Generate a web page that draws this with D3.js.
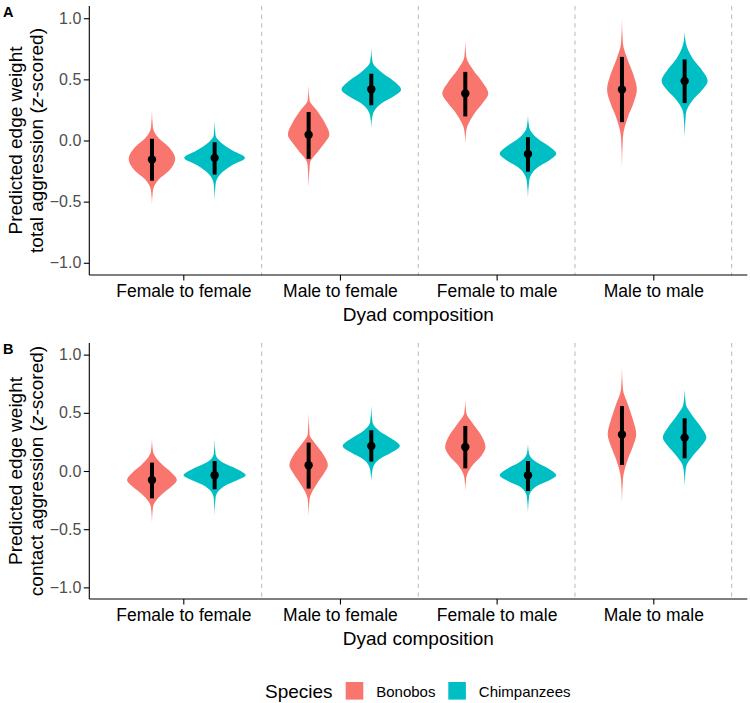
<!DOCTYPE html>
<html>
<head>
<meta charset="utf-8">
<script src="https://cdn.jsdelivr.net/npm/d3@7"></script>
<style>
  body { margin: 0; background: #fff; }
  svg { display: block; font-family: "Liberation Sans", Arial, sans-serif; }
</style>
</head>
<body>
<svg id="chart" width="750" height="703"></svg>
<script>
const categories = ["Female to female", "Male to female", "Female to male", "Male to male"];
const species = ["Bonobos", "Chimpanzees"];
const speciesColors = ["#F8766D", "#00BFC4"];
const yTicks = [-1, -0.5, 0, 0.5, 1];

// order of the 8 groups: category by category, bonobos then chimpanzees
const totalMedian = [-0.155, -0.142, 0.047, 0.419, 0.384, -0.110, 0.417, 0.487];
const totalLower  = [-0.329, -0.279, -0.150, 0.288, 0.197, -0.255, 0.150, 0.306];
const totalUpper  = [0.014, -0.014, 0.233, 0.546, 0.561, 0.027, 0.684, 0.663];

const contactMedian = [-0.077, -0.037, 0.049, 0.215, 0.206, -0.037, 0.313, 0.287];
const contactLower  = [-0.235, -0.157, -0.151, 0.081, 0.023, -0.172, 0.052, 0.109];
const contactUpper  = [0.072, 0.086, 0.244, 0.350, 0.387, 0.086, 0.558, 0.453];

// violin outlines: [value, relative density]
const totalViolins = [
    [[0.247, 0], [0.109, 0.03], [0.027, 0.19], [-0.055, 0.55], [-0.150, 0.75], [-0.247, 0.55], [-0.315, 0.23], [-0.411, 0.03], [-0.520, 0]],
    [[0.164, 0], [0.041, 0.03], [-0.014, 0.19], [-0.082, 0.58], [-0.142, 0.98], [-0.205, 0.55], [-0.274, 0.19], [-0.356, 0.03], [-0.493, 0]],
    [[0.452, 0], [0.329, 0.03], [0.247, 0.26], [0.145, 0.52], [0.047, 0.67], [-0.019, 0.52], [-0.082, 0.33], [-0.189, 0.04], [-0.384, 0]],
    [[0.753, 0], [0.643, 0.04], [0.561, 0.32], [0.489, 0.71], [0.417, 0.96], [0.359, 0.71], [0.302, 0.32], [0.205, 0.04], [0.109, 0]],
    [[0.822, 0], [0.684, 0.03], [0.575, 0.26], [0.479, 0.55], [0.384, 0.74], [0.302, 0.55], [0.219, 0.29], [0.082, 0.03], [-0.027, 0]],
    [[0.205, 0], [0.109, 0.04], [0.014, 0.32], [-0.048, 0.68], [-0.109, 0.91], [-0.164, 0.68], [-0.219, 0.32], [-0.329, 0.04], [-0.466, 0]],
    [[0.990, 0], [0.795, 0.03], [0.657, 0.19], [0.537, 0.37], [0.417, 0.48], [0.304, 0.37], [0.191, 0.19], [0.027, 0.03], [-0.219, 0]],
    [[0.890, 0], [0.795, 0.04], [0.671, 0.26], [0.579, 0.55], [0.487, 0.74], [0.408, 0.55], [0.329, 0.26], [0.219, 0.04], [0.027, 0]]
];

const contactViolins = [
    [[0.272, 0], [0.172, 0.03], [0.058, 0.32], [-0.009, 0.61], [-0.077, 0.80], [-0.138, 0.61], [-0.200, 0.32], [-0.314, 0.03], [-0.443, 0]],
    [[0.272, 0], [0.143, 0.03], [0.072, 0.26], [0.017, 0.71], [-0.037, 1.00], [-0.082, 0.71], [-0.129, 0.32], [-0.229, 0.03], [-0.387, 0]],
    [[0.502, 0], [0.315, 0.03], [0.229, 0.23], [0.139, 0.48], [0.049, 0.62], [-0.026, 0.48], [-0.100, 0.29], [-0.243, 0.03], [-0.387, 0]],
    [[0.558, 0], [0.416, 0.04], [0.344, 0.26], [0.279, 0.65], [0.215, 0.92], [0.158, 0.65], [0.101, 0.26], [0.015, 0.04], [-0.086, 0]],
    [[0.616, 0], [0.502, 0.03], [0.401, 0.26], [0.304, 0.52], [0.206, 0.65], [0.132, 0.52], [0.058, 0.26], [-0.057, 0.03], [-0.172, 0]],
    [[0.229, 0], [0.143, 0.04], [0.072, 0.29], [0.017, 0.68], [-0.037, 0.91], [-0.082, 0.68], [-0.129, 0.29], [-0.215, 0.04], [-0.357, 0]],
    [[0.888, 0], [0.702, 0.03], [0.573, 0.19], [0.444, 0.35], [0.315, 0.46], [0.208, 0.35], [0.101, 0.19], [-0.071, 0.03], [-0.271, 0]],
    [[0.702, 0], [0.573, 0.04], [0.473, 0.26], [0.380, 0.52], [0.287, 0.70], [0.208, 0.52], [0.129, 0.26], [0.029, 0.04], [-0.129, 0]]
];

const panels = [
    {label: "A", titleLines: ["Predicted edge weight", "total aggression"], median: totalMedian, lower: totalLower, upper: totalUpper, violins: totalViolins, top: 6, bottom: 275},
    {label: "B", titleLines: ["Predicted edge weight", "contact aggression"], median: contactMedian, lower: contactLower, upper: contactUpper, violins: contactViolins, top: 343, bottom: 599}
];

var svg = d3.select("#chart");
var plotLeft = 89.3, plotRight = 747.3;

var x = d3.scalePoint().domain(categories).range([plotLeft, plotRight]).padding(0.6);
var step = x.step();
var dodge = d3.scalePoint().domain(species).range([-0.2 * step, 0.2 * step]);
var halfWidth = d3.scaleLinear().domain([0, 1]).range([0, 0.198 * step]);
var color = d3.scaleOrdinal().domain(species).range(speciesColors);

function drawPanel(p) {
    var y = d3.scaleLinear().domain([-1.1, 1.1]).range([p.bottom, p.top]);
    var g = svg.append("g");

    // dashed separators between categories
    g.selectAll("line.sep")
        .data(categories)
        .enter().append("line")
        .attr("class", "sep")
        .attr("x1", function(d) { return x(d) + step / 2; })
        .attr("x2", function(d) { return x(d) + step / 2; })
        .attr("y1", p.top)
        .attr("y2", p.bottom)
        .attr("stroke", "#BEBEBE")
        .attr("stroke-width", 1.1)
        .attr("stroke-dasharray", "4.3,4.3");

    var groups = [];
    categories.forEach(function(cat, i) {
        species.forEach(function(sp, j) {
            var k = i * species.length + j;
            groups.push({cat: cat, sp: sp, median: p.median[k], lower: p.lower[k], upper: p.upper[k], profile: p.violins[k]});
        });
    });

    var cx = function(d) { return x(d.cat) + dodge(d.sp); };

    g.selectAll("path.violin")
        .data(groups)
        .enter().append("path")
        .attr("class", "violin")
        .attr("fill", function(d) { return color(d.sp); })
        .attr("d", function(d) {
            var c = cx(d);
            return d3.area()
                .curve(d3.curveMonotoneY)
                .y(function(v) { return y(v[0]); })
                .x0(function(v) { return c - halfWidth(v[1]); })
                .x1(function(v) { return c + halfWidth(v[1]); })(d.profile);
        });

    g.selectAll("line.interval")
        .data(groups)
        .enter().append("line")
        .attr("class", "interval")
        .attr("x1", cx).attr("x2", cx)
        .attr("y1", function(d) { return y(d.lower); })
        .attr("y2", function(d) { return y(d.upper); })
        .attr("stroke", "#000")
        .attr("stroke-width", 4);

    g.selectAll("circle.median")
        .data(groups)
        .enter().append("circle")
        .attr("class", "median")
        .attr("cx", cx)
        .attr("cy", function(d) { return y(d.median); })
        .attr("r", 4.2)
        .attr("fill", "#000");

    // axes
    var yAxis = g.append("g")
        .attr("transform", "translate(" + plotLeft + ",0)")
        .call(d3.axisLeft(y).tickValues(yTicks).tickFormat(d3.format(".1f")).tickSize(5.5).tickPadding(2.5));
    yAxis.select(".domain").attr("stroke-width", 1.1).attr("d", "M0," + p.top + "V" + p.bottom);
    yAxis.selectAll(".tick line").attr("stroke-width", 1.1);
    yAxis.selectAll(".tick text").attr("font-size", 16).attr("fill", "#4D4D4D").attr("font-family", "Liberation Sans, Arial, sans-serif");

    var xAxis = g.append("g")
        .attr("transform", "translate(0," + p.bottom + ")")
        .call(d3.axisBottom(x).tickSize(5.5).tickPadding(4));
    xAxis.select(".domain").attr("stroke-width", 1.1).attr("d", "M" + plotLeft + ",0H" + plotRight);
    xAxis.selectAll(".tick line").attr("stroke-width", 1.1);
    xAxis.selectAll(".tick text").attr("font-size", 17.5).attr("fill", "#000").attr("font-family", "Liberation Sans, Arial, sans-serif")
        .attr("dy", null).attr("y", 22);

    g.append("text")
        .attr("x", (plotLeft + plotRight) / 2)
        .attr("y", p.bottom + 45.8)
        .attr("text-anchor", "middle")
        .attr("font-size", 19)
        .text("Dyad composition");

    // two-line y title with italic z
    var midY = (p.top + p.bottom) / 2;
    var title = g.append("text")
        .attr("transform", "translate(0," + midY + ") rotate(-90)")
        .attr("text-anchor", "middle")
        .attr("font-size", 19);
    title.append("tspan").attr("x", 0).attr("y", 22).text(p.titleLines[0]);
    var second = title.append("tspan").attr("x", 0).attr("y", 43);
    second.append("tspan").text(p.titleLines[1] + " (");
    second.append("tspan").attr("font-style", "italic").text("z");
    second.append("tspan").text("-scored)");

    g.append("text")
        .attr("x", 3)
        .attr("y", p.top + 11)
        .attr("font-size", 14.5)
        .attr("font-weight", "bold")
        .text(p.label);
}

panels.forEach(drawPanel);

// legend
var legend = svg.append("g");
legend.append("text")
    .attr("x", 265)
    .attr("y", 697.5)
    .attr("font-size", 19)
    .text("Species");

var keyX = d3.scaleOrdinal().domain(species).range([345.7, 448.3]);
var keys = legend.selectAll("g.key")
    .data(species)
    .enter().append("g")
    .attr("class", "key");
keys.append("rect")
    .attr("x", function(d) { return keyX(d); })
    .attr("y", 682)
    .attr("width", 17.6)
    .attr("height", 17.6)
    .attr("fill", function(d) { return color(d); });
keys.append("text")
    .attr("x", function(d) { return keyX(d) + 30.5; })
    .attr("y", 696.6)
    .attr("font-size", 15)
    .text(function(d) { return d; });
</script>
</body>
</html>
